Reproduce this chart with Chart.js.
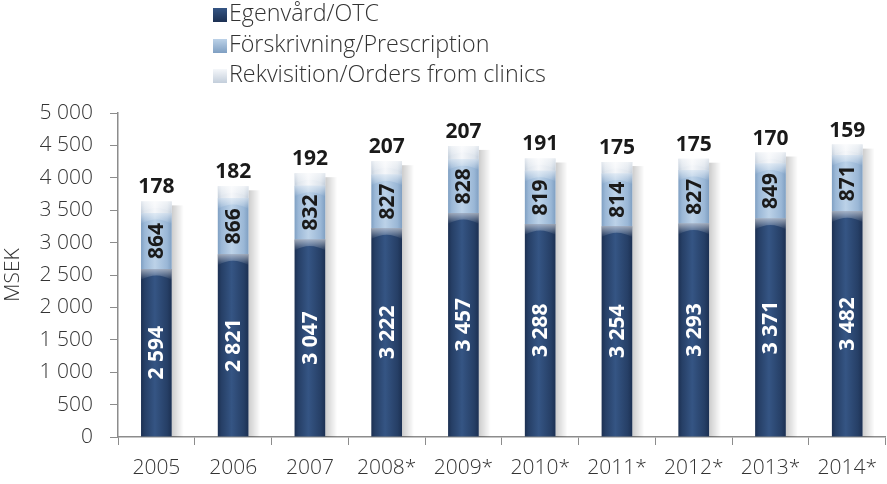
<!DOCTYPE html>
<html>
<head>
<meta charset="utf-8">
<script src="https://cdn.jsdelivr.net/npm/chart.js@4"></script>
<style>
  html, body { margin: 0; padding: 0; background: #fff; }
  #wrap { position: relative; width: 887px; height: 484px; }
  #legend { position: absolute; left: 213px; top: -2px; font-family: "Open Sans", sans-serif; font-weight: 300; font-size: 23.3px; color: #333; }
  #legend div { height: 30.5px; line-height: 28px; white-space: nowrap; }
  #legend span.box { display: inline-block; width: 14px; height: 14px; margin-right: 2px; vertical-align: -1px; }
</style>
</head>
<body>
<div id="wrap">
  <canvas id="c" width="887" height="484"></canvas>
  <div id="legend"></div>
</div>
<script>
const years = ['2005', '2006', '2007', '2008*', '2009*', '2010*', '2011*', '2012*', '2013*', '2014*'];
const otc = [2594, 2821, 3047, 3222, 3457, 3288, 3254, 3293, 3371, 3482];
const prescription = [864, 866, 832, 827, 828, 819, 814, 827, 849, 871];
const orders = [178, 182, 192, 207, 207, 191, 175, 175, 170, 159];
const yTicks = [0, 500, 1000, 1500, 2000, 2500, 3000, 3500, 4000, 4500, 5000];

const seriesNames = ['Egenvård/OTC', 'Förskrivning/Prescription', 'Rekvisition/Orders from clinics'];
// edge / centre / body colours for the cylinder look
const shades = [
  ['#1c3052', '#355584', '#263f66'],
  ['#7f9fc2', '#bcd2e8', '#9ab7d6'],
  ['#c3cedb', '#f5f7fa', '#dde4ec']
];

const BAR_FRAC = 0.4;
const FONT = '"Open Sans", sans-serif';
const fmt = v => String(v).replace(/\B(?=(\d{3})+(?!\d))/g, ' ');

function cylinder(i) {
  return ctx => {
    const chart = ctx.chart;
    const xs = chart.scales.x;
    if (!xs || !chart.chartArea) return shades[i][2];
    const cx = xs.getPixelForValue(ctx.dataIndex);
    const w = (chart.chartArea.width / years.length) * BAR_FRAC;
    const g = chart.ctx.createLinearGradient(cx - w / 2, 0, cx + w / 2, 0);
    g.addColorStop(0, shades[i][0]);
    g.addColorStop(0.12, shades[i][2]);
    g.addColorStop(0.45, shades[i][1]);
    g.addColorStop(0.85, shades[i][2]);
    g.addColorStop(1, shades[i][0]);
    return g;
  };
}

// shadow to the right of bars and a light bevel at the top of each segment
const barDeco = {
  id: 'barDeco',
  beforeDatasetsDraw(chart) {
    const c = chart.ctx;
    const bottom = chart.chartArea.bottom;
    chart.getDatasetMeta(2).data.forEach(bar => {
      const right = bar.x + bar.width / 2;
      const g = c.createLinearGradient(right, 0, right + 12, 0);
      g.addColorStop(0, 'rgba(0,0,0,0.2)');
      g.addColorStop(1, 'rgba(0,0,0,0)');
      c.save();
      c.fillStyle = g;
      c.fillRect(right, bar.y + 4, 12, bottom - bar.y - 4);
      c.restore();
    });
  },
  afterDatasetsDraw(chart) {
    const c = chart.ctx;
    [0, 1, 2].forEach(d => {
      chart.getDatasetMeta(d).data.forEach(bar => {
        const l = bar.x - bar.width / 2, w = bar.width, t = bar.y;
        const g = c.createLinearGradient(0, t, 0, t + 11);
        g.addColorStop(0, 'rgba(255,255,255,0.55)');
        g.addColorStop(1, 'rgba(255,255,255,0)');
        c.save();
        c.fillStyle = g;
        c.beginPath();
        c.moveTo(l, t);
        c.lineTo(l + w, t);
        c.lineTo(l + w, t + 11);
        c.quadraticCurveTo(l + w / 2, t + 2, l, t + 11);
        c.closePath();
        c.fill();
        c.restore();
      });
    });
  }
};

const valueLabels = {
  id: 'valueLabels',
  afterDraw(chart) {
    const c = chart.ctx;
    c.save();
    c.font = 'bold 21px ' + FONT;
    c.textAlign = 'center';
    c.textBaseline = 'middle';
    [0, 1].forEach(d => {
      const data = chart.data.datasets[d].data;
      chart.getDatasetMeta(d).data.forEach((bar, j) => {
        const cy = (bar.y + bar.base) / 2;
        c.save();
        c.translate(bar.x, cy);
        c.rotate(-Math.PI / 2);
        c.fillStyle = d === 0 ? '#ffffff' : '#1a1a1a';
        c.fillText(fmt(data[j]), 0, 1);
        c.restore();
      });
    });
    c.fillStyle = '#1a1a1a';
    c.textBaseline = 'alphabetic';
    chart.getDatasetMeta(2).data.forEach((bar, j) => {
      c.fillText(fmt(orders[j]), bar.x, bar.y - 8);
    });
    c.restore();
  }
};

const datasets = [otc, prescription, orders].map((arr, i) => ({
  label: seriesNames[i],
  data: arr,
  backgroundColor: cylinder(i),
  borderWidth: 0,
  barPercentage: BAR_FRAC,
  categoryPercentage: 1
}));

new Chart(document.getElementById('c'), {
  type: 'bar',
  data: { labels: years, datasets },
  options: {
    responsive: false,
    animation: false,
    layout: { padding: { top: 113, right: 0, left: 0, bottom: 0 } },
    plugins: { legend: { display: false }, tooltip: { enabled: false } },
    scales: {
      x: {
        stacked: true,
        afterFit: s => { s.height = 47; },
        border: { color: '#8c8c8c', width: 1.5 },
        grid: { drawOnChartArea: false, color: '#8c8c8c', tickLength: 8, offset: true },
        ticks: { color: '#333', font: { family: FONT, size: 21, weight: 300 }, padding: 10, maxRotation: 0 }
      },
      y: {
        stacked: true,
        min: 0,
        max: 5000,
        afterFit: s => { s.width = 118; },
        afterBuildTicks: s => { s.ticks = yTicks.map(v => ({ value: v })); },
        border: { color: '#8c8c8c', width: 1.5 },
        grid: { drawOnChartArea: false, color: '#8c8c8c', tickLength: 8 },
        ticks: { color: '#333', font: { family: FONT, size: 21, weight: 300 }, padding: 17, callback: v => fmt(v) },
        title: { display: true, text: 'MSEK', color: '#333', font: { family: FONT, size: 21, weight: 300 }, padding: 0 }
      }
    }
  },
  plugins: [barDeco, valueLabels]
});

// legend as html text, built from the series names
const leg = document.getElementById('legend');
seriesNames.forEach((name, i) => {
  const row = document.createElement('div');
  const box = document.createElement('span');
  box.className = 'box';
  box.style.background = 'linear-gradient(to bottom, ' + shades[i][1] + ', ' + shades[i][0] + ')';
  row.appendChild(box);
  row.appendChild(document.createTextNode(name));
  leg.appendChild(row);
});
</script>
</body>
</html>
